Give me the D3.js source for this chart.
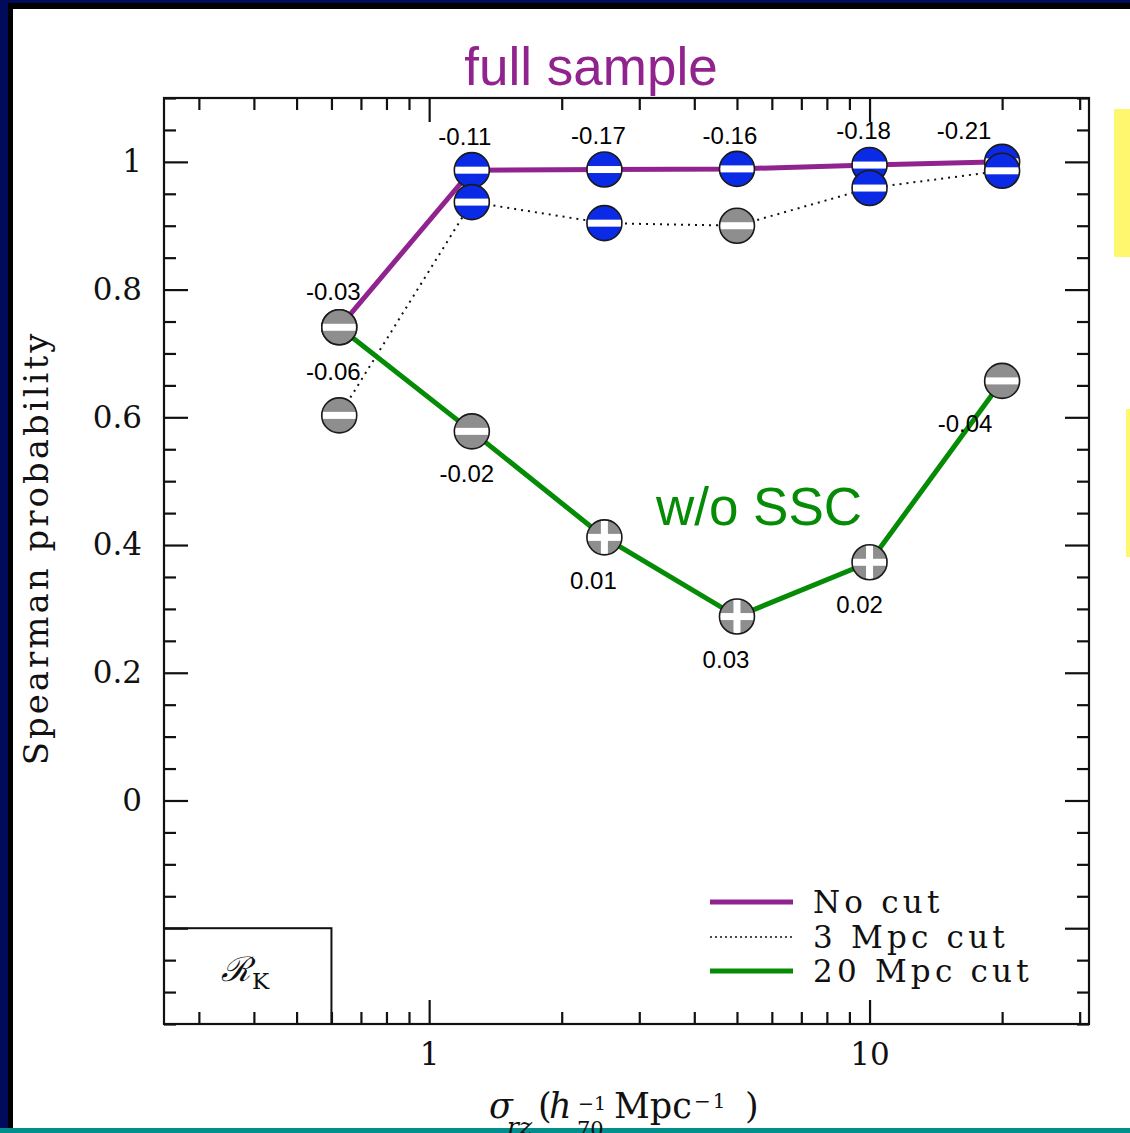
<!DOCTYPE html>
<html>
<head>
<meta charset="utf-8">
<script src="https://cdn.jsdelivr.net/npm/d3@7"></script>
<style>
  body { margin: 0; background: #fff; }
  svg { display: block; }
  .serif { font-family: "DejaVu Serif", serif; }
  .sans { font-family: "Liberation Sans", Arial, sans-serif; }
</style>
</head>
<body>
<script>
// data
var sigma = [0.625, 1.25, 2.5, 5, 10, 20];

var noCut  = [0.741, 0.987, 0.988, 0.989, 0.995, 1.000];
var cut3   = [0.603, 0.937, 0.904, 0.900, 0.959, 0.986];
var cut20  = [0.741, 0.578, 0.412, 0.288, 0.373, 0.657];

// marker fill (b = blue, g = gray) and sign of correlation
var noCutFill = ["g", "b", "b", "b", "b", "b"];
var cut3Fill  = ["g", "b", "b", "g", "b", "b"];
var cut20Fill = ["g", "g", "g", "g", "g", "g"];
var noCutSign = ["-", "-", "-", "-", "-", "-"];
var cut3Sign  = ["-", "-", "-", "-", "-", "-"];
var cut20Sign = ["-", "-", "+", "+", "+", "-"];

// correlation coefficients printed next to points
var noCutLab = ["-0.03", "-0.11", "-0.17", "-0.16", "-0.18", "-0.21"];
var cut3Lab  = ["-0.06", "", "", "", "", ""];
var cut20Lab = ["", "-0.02", "0.01", "0.03", "0.02", "-0.04"];

var yMajor = [-0.2, 0, 0.2, 0.4, 0.6, 0.8, 1];
var yLabels = [0, 0.2, 0.4, 0.6, 0.8, 1];
var xMajor = [1, 10];
var xMinor = [0.3, 0.4, 0.5, 0.6, 0.7, 0.8, 0.9, 2, 3, 4, 5, 6, 7, 8, 9, 20, 30];

var legendNames = ["No cut", "3 Mpc cut", "20 Mpc cut"];

// layout
var W = 1130, H = 1133;
var pL = 164, pR = 1089, pT = 98, pB = 1024;
var purple = "#91238f", green = "#058b05", blue = "#0a2ae6", gray = "#8e8e8e";

// label offsets (px) from each point
var noCutOff = [[-6, -27], [-7, -25], [-6, -26], [-7, -25], [-6, -26], [-38, -23]];
var cut3Off  = [[-6, -35]];
var cut20Off = [[0, 0], [-5, 51], [-11, 52], [-11, 51], [-10, 51], [-37, 51]];

var svg = d3.select("body").append("svg")
    .attr("width", W).attr("height", H);

// slide frame
svg.append("rect").attr("width", W).attr("height", H).attr("fill", "#000b5c");
svg.append("rect").attr("x", 8).attr("y", 3).attr("width", W).attr("height", H).attr("fill", "#000");
svg.append("rect").attr("x", 13).attr("y", 9).attr("width", W).attr("height", H).attr("fill", "#fff");
svg.append("rect").attr("x", 0).attr("y", 1128).attr("width", W).attr("height", 5).attr("fill", "#008f8c");
svg.append("rect").attr("x", 1114).attr("y", 109).attr("width", 16).attr("height", 148).attr("fill", "#fff86e");
svg.append("rect").attr("x", 1126).attr("y", 409).attr("width", 4).attr("height", 148).attr("fill", "#fff86e");

var x = d3.scaleLog().domain([0.25, 31.5]).range([pL, pR]);
var y = d3.scaleLinear().domain([-0.35, 1.1]).range([pB, pT]);

var yMinor = d3.range(-35, 111, 5).map(function (d) { return d / 100; })
    .filter(function (d) { return yMajor.every(function (m) { return Math.abs(m - d) > 1e-6; }); });

function styleAxis(g) {
    g.select(".domain").remove();
    g.selectAll(".tick line").attr("stroke", "#111").attr("stroke-width", 2.2);
    g.selectAll(".tick text").attr("class", "serif").attr("fill", "#111")
        .attr("font-size", 31);
}

// bottom
svg.append("g").attr("transform", "translate(0," + pB + ")")
    .call(d3.axisBottom(x).tickValues(xMajor).tickSize(-24).tickPadding(19)
        .tickFormat(d3.format("d")))
    .call(styleAxis);
svg.append("g").attr("transform", "translate(0," + pB + ")")
    .call(d3.axisBottom(x).tickValues(xMinor).tickSize(-12).tickFormat(""))
    .call(styleAxis);
// top
svg.append("g").attr("transform", "translate(0," + pT + ")")
    .call(d3.axisTop(x).tickValues(xMajor).tickSize(-24).tickFormat(""))
    .call(styleAxis);
svg.append("g").attr("transform", "translate(0," + pT + ")")
    .call(d3.axisTop(x).tickValues(xMinor).tickSize(-12).tickFormat(""))
    .call(styleAxis);
// left
svg.append("g").attr("transform", "translate(" + pL + ",0)")
    .call(d3.axisLeft(y).tickValues(yMajor).tickSize(-24).tickPadding(22)
        .tickFormat(function (d) { return yLabels.indexOf(d) >= 0 ? d3.format("")(d) : ""; }))
    .call(styleAxis);
svg.append("g").attr("transform", "translate(" + pL + ",0)")
    .call(d3.axisLeft(y).tickValues(yMinor).tickSize(-12).tickFormat(""))
    .call(styleAxis);
// right
svg.append("g").attr("transform", "translate(" + pR + ",0)")
    .call(d3.axisRight(y).tickValues(yMajor).tickSize(-24).tickFormat(""))
    .call(styleAxis);
svg.append("g").attr("transform", "translate(" + pR + ",0)")
    .call(d3.axisRight(y).tickValues(yMinor).tickSize(-12).tickFormat(""))
    .call(styleAxis);

// frame
svg.append("rect").attr("x", pL).attr("y", pT)
    .attr("width", pR - pL).attr("height", pB - pT)
    .attr("fill", "none").attr("stroke", "#111").attr("stroke-width", 2.2);

// label box bottom-left
svg.append("rect").attr("x", pL).attr("y", y(-0.2))
    .attr("width", x(0.6) - pL).attr("height", pB - y(-0.2))
    .attr("fill", "none").attr("stroke", "#111").attr("stroke-width", 2);
var rk = svg.append("text").attr("class", "serif").attr("x", 221).attr("y", 981)
    .attr("font-size", 34).attr("font-style", "italic").attr("fill", "#111");
rk.append("tspan").text("\u211B");
rk.append("tspan").attr("font-size", 23).attr("font-style", "normal").attr("dy", 8).attr("dx", 1).text("K");

// lines
var line = d3.line()
    .x(function (d) { return x(d[0]); })
    .y(function (d) { return y(d[1]); });

svg.append("path").datum(d3.zip(sigma, cut3)).attr("d", line)
    .attr("fill", "none").attr("stroke", "#111").attr("stroke-width", 2)
    .attr("stroke-dasharray", "2,5");
svg.append("path").datum(d3.zip(sigma, noCut)).attr("d", line)
    .attr("fill", "none").attr("stroke", purple).attr("stroke-width", 5);
svg.append("path").datum(d3.zip(sigma, cut20)).attr("d", line)
    .attr("fill", "none").attr("stroke", green).attr("stroke-width", 5);

// markers
var r = 17.5, bar = 7;
function markers(vals, fills, signs) {
    var g = svg.append("g");
    var m = g.selectAll("g").data(d3.range(vals.length)).enter().append("g")
        .attr("transform", function (i) { return "translate(" + x(sigma[i]) + "," + y(vals[i]) + ")"; });
    m.append("circle").attr("r", r)
        .attr("fill", function (i) { return fills[i] === "b" ? blue : gray; });
    m.append("rect").attr("x", -r + 0.5).attr("y", -bar / 2)
        .attr("width", 2 * r - 1).attr("height", bar).attr("fill", "#fff");
    m.filter(function (i) { return signs[i] === "+"; }).append("rect")
        .attr("x", -bar / 2).attr("y", -r + 0.5)
        .attr("width", bar).attr("height", 2 * r - 1).attr("fill", "#fff");
    m.append("circle").attr("r", r).attr("fill", "none")
        .attr("stroke", "#1a1a1a").attr("stroke-width", 1.6);
}
markers(noCut, noCutFill, noCutSign);
markers(cut3, cut3Fill, cut3Sign);
markers(cut20, cut20Fill, cut20Sign);

// coefficient labels
function labels(vals, labs, offs) {
    labs.forEach(function (t, i) {
        if (!t) return;
        svg.append("text").attr("class", "sans")
            .attr("x", x(sigma[i]) + offs[i][0]).attr("y", y(vals[i]) + offs[i][1])
            .attr("text-anchor", "middle").attr("font-size", 24).attr("fill", "#000")
            .text(t);
    });
}
labels(noCut, noCutLab, noCutOff);
labels(cut3, cut3Lab, cut3Off);
labels(cut20, cut20Lab, cut20Off);

// annotations
svg.append("text").attr("class", "sans").attr("x", 591).attr("y", 85)
    .attr("text-anchor", "middle").attr("font-size", 53).attr("fill", purple)
    .text("full sample");
svg.append("text").attr("class", "sans").attr("x", 759).attr("y", 525)
    .attr("text-anchor", "middle").attr("font-size", 53).attr("fill", green)
    .text("w/o SSC");

// legend
var legColors = [purple, "#111", green];
var legY = [902, 937, 971];
legendNames.forEach(function (n, i) {
    svg.append("line").attr("x1", 710).attr("x2", 793)
        .attr("y1", legY[i]).attr("y2", legY[i])
        .attr("stroke", legColors[i]).attr("stroke-width", i === 1 ? 1.6 : 5)
        .attr("stroke-dasharray", i === 1 ? "2,3" : null);
    svg.append("text").attr("class", "serif").attr("x", 813).attr("y", legY[i] + 11)
        .attr("font-size", 31).attr("letter-spacing", 4.2).attr("fill", "#111")
        .text(n);
});

// axis titles
svg.append("text").attr("class", "serif")
    .attr("transform", "translate(48,548) rotate(-90)")
    .attr("text-anchor", "middle").attr("font-size", 34).attr("letter-spacing", 3)
    .attr("fill", "#111").text("Spearman probability");

var xt = svg.append("text").attr("class", "serif").attr("y", 1118)
    .attr("font-size", 35).attr("fill", "#111");
xt.append("tspan").attr("x", 489).attr("font-style", "italic").text("\u03C3");
xt.append("tspan").attr("x", 507).attr("y", 1135).attr("font-style", "italic").attr("font-size", 25).text("rz");
xt.append("tspan").attr("x", 538).attr("y", 1118).text("(");
xt.append("tspan").attr("x", 549).attr("font-style", "italic").text("h");
xt.append("tspan").attr("x", 578).attr("y", 1110).attr("font-size", 19).text("\u22121");
xt.append("tspan").attr("x", 577).attr("y", 1136).attr("font-size", 21).text("70");
xt.append("tspan").attr("x", 614).attr("y", 1118).text("Mpc");
xt.append("tspan").attr("x", 694).attr("y", 1108).attr("font-size", 20).attr("letter-spacing", 2).text("\u22121");
xt.append("tspan").attr("x", 745).attr("y", 1118).text(")");
</script>
</body>
</html>
